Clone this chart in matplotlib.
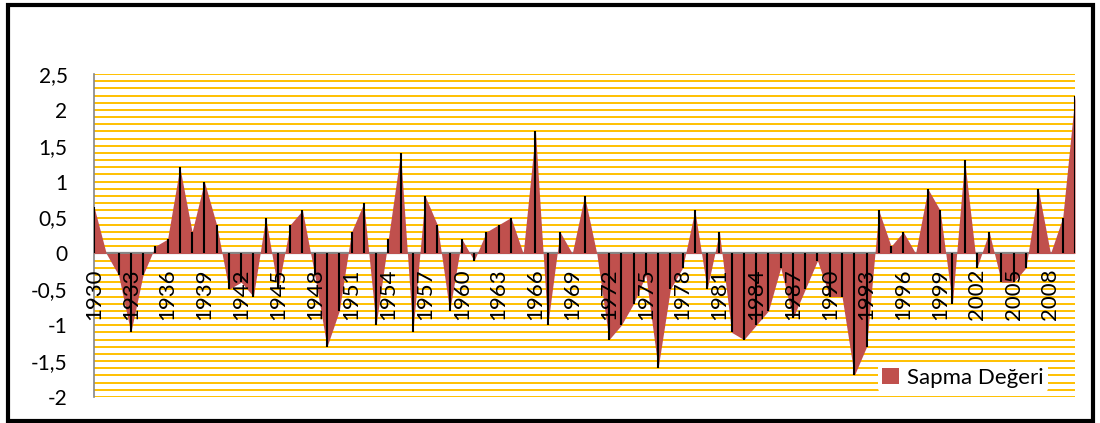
import numpy as np
import matplotlib
matplotlib.use("Agg")
import matplotlib.pyplot as plt
from matplotlib.patches import Rectangle, Patch

plt.rcParams['font.family'] = ['Lato', 'DejaVu Sans']

years = list(range(1930, 2011))
values = [
    0.65, 0.0, -0.3, -1.1, -0.3, 0.1, 0.2, 1.2, 0.3, 1.0,     # 1930-1939
    0.4, -0.5, -0.4, -0.6, 0.5, -0.5, 0.4, 0.6, -0.3, -1.3,    # 1940-1949
    -0.8, 0.3, 0.7, -1.0, 0.2, 1.4, -1.1, 0.8, 0.4, -0.8,      # 1950-1959
    0.2, -0.1, 0.3, 0.4, 0.5, 0.0, 1.7, -1.0, 0.3, 0.0,        # 1960-1969
    0.8, 0.0, -1.2, -1.0, -0.7, -0.3, -1.6, -0.5, -0.2, 0.6,   # 1970-1979
    -0.5, 0.3, -1.1, -1.2, -1.0, -0.8, -0.2, -0.9, -0.5, -0.1, # 1980-1989
    -0.6, -0.6, -1.7, -1.3, 0.6, 0.1, 0.3, 0.0, 0.9, 0.6,      # 1990-1999
    -0.7, 1.3, -0.2, 0.3, -0.4, -0.4, -0.2, 0.9, 0.0, 0.5,     # 2000-2009
    2.2,                                                        # 2010
]
tick_years = list(range(1930, 2011, 3))
y_ticks = [-2, -1.5, -1, -0.5, 0, 0.5, 1, 1.5, 2, 2.5]
y_ticklabels = ["-2", "-1,5", "-1", "-0,5", "0", "0,5", "1", "1,5", "2", "2,5"]
series_name = "Sapma Değeri"

fill_color = "#C0504D"
grid_color = "#FFC000"
axis_gray = "#868686"

fig = plt.figure(figsize=(11, 4.23), dpi=100)
ax = fig.add_axes([94/1100, 1 - 397/423, (1075 - 94)/1100, (397 - 74)/423])

ax.set_xlim(years[0], years[-1])
ax.set_ylim(-2, 2.5)

# dense horizontal gridlines every 0.1
for g in np.arange(-20, 26) / 10.0:
    ax.axhline(g, color=grid_color, lw=1.4, zorder=1)

ax.axhline(0, color=axis_gray, lw=1.6, zorder=2)

ax.fill_between(years, values, 0, color=fill_color, lw=0, zorder=3)
ax.vlines(years, 0, values, color='black', lw=1.5, zorder=4)

for s in ['top', 'right']:
    ax.spines[s].set_visible(False)
ax.spines['left'].set_color(axis_gray)
ax.spines['left'].set_linewidth(1.2)
ax.spines['bottom'].set_position(('data', 0))
ax.spines['bottom'].set_visible(False)

ax.set_yticks(y_ticks)
ax.set_yticklabels(y_ticklabels, fontsize=15)
ax.tick_params(axis='y', length=0, pad=19)

ax.set_xticks(tick_years)
ax.set_xticklabels([str(y) for y in tick_years], rotation=90, fontsize=16)
ax.tick_params(axis='x', length=0, pad=11)
ax.xaxis.set_zorder(6)

leg = ax.legend(handles=[Patch(facecolor=fill_color, edgecolor='none', label=series_name)],
                loc='lower right', bbox_to_anchor=(1048/1100, 1 - 392/423),
                bbox_transform=fig.transFigure, frameon=True, fontsize=16,
                handlelength=0.75, handleheight=0.75, handletextpad=0.35,
                borderpad=0.2, borderaxespad=0)
leg.get_frame().set_facecolor('white')
leg.get_frame().set_edgecolor('none')
leg.get_frame().set_alpha(1)
leg.set_zorder(7)

fig.patches.append(Rectangle((7.5/1100, 2.5/423), (1093 - 7.5)/1100, (418 - 2.5)/423,
                             transform=fig.transFigure, fill=False,
                             edgecolor='black', lw=3))

fig.savefig("out.png", dpi=100, facecolor='white')
